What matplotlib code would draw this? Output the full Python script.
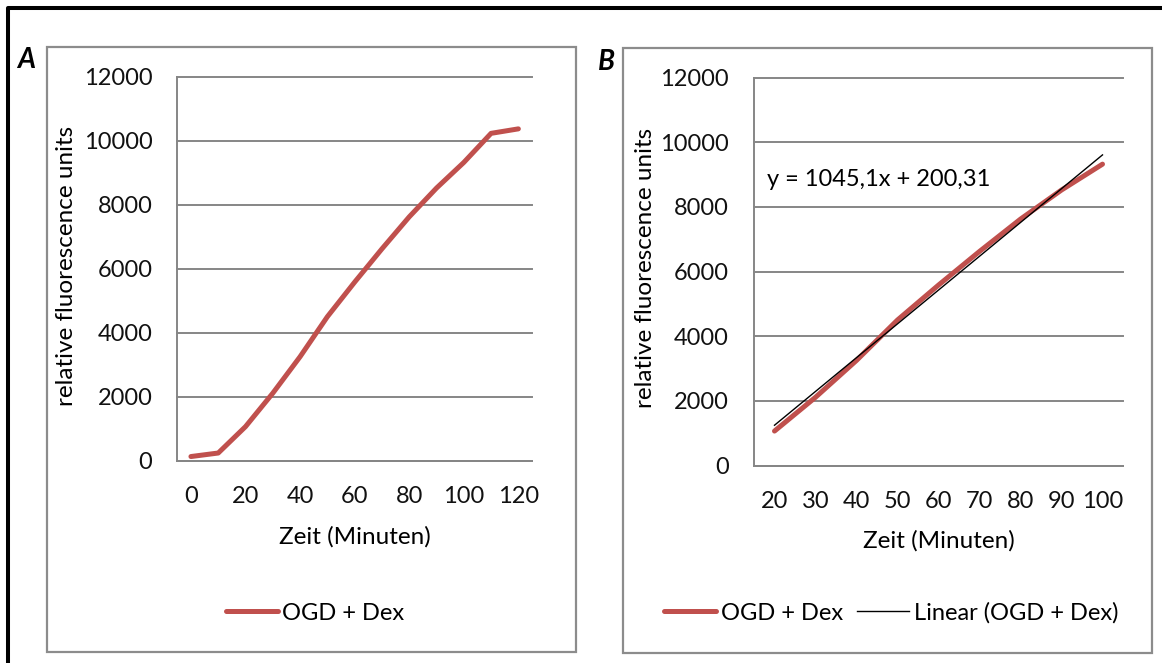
import numpy as np
import matplotlib.pyplot as plt
from matplotlib.patches import Rectangle
from matplotlib.lines import Line2D

W, H = 1162, 663

# fluorescence readout, OGD + Dex
minutes = [0, 10, 20, 30, 40, 50, 60, 70, 80, 90, 100, 110, 120]
rfu = [130, 240, 1065, 2110, 3250, 4500, 5580, 6620, 7620, 8520, 9320, 10230, 10370]

# linear range 20-100 min, used for the fit in panel B
minutes_lin = minutes[2:11]
rfu_lin = rfu[2:11]

# fitted trendline (x = point number 1..9)
slope = 1045.1
intercept = 200.31

y_ticks = [0, 2000, 4000, 6000, 8000, 10000, 12000]

red = '#C0504D'
grey = '#868686'
fs = 17

plt.rcParams['font.family'] = ['Lato', 'DejaVu Sans']


def fx(px):
    return px / W


def fy(py):
    return 1 - py / H


fig = plt.figure(figsize=(W / 100, H / 100), dpi=100)

# black frame, left and top only
fig.add_artist(Line2D([fx(8), fx(8), fx(1162)], [fy(663), fy(8), fy(8)],
                      color='black', lw=2.9))

# chart boxes
for x0, y0, x1, y1 in [(47, 47, 576, 652), (623, 48, 1152, 653)]:
    fig.add_artist(Rectangle((fx(x0), fy(y1)), fx(x1) - fx(x0), fy(y0) - fy(y1),
                             fill=False, ec='#8C8C8C', lw=1.6))


def make_axes(l, t, r, b):
    ax = fig.add_axes([fx(l), fy(b), fx(r) - fx(l), fy(t) - fy(b)])
    ax.set_ylim(0, 12000)
    ax.set_yticks(y_ticks)
    ax.set_yticklabels([str(v) for v in y_ticks])
    ax.grid(axis='y', color=grey, lw=1.4, clip_on=False)
    ax.set_axisbelow(True)
    for s in ['top', 'right']:
        ax.spines[s].set_visible(False)
    for s in ['left', 'bottom']:
        ax.spines[s].set_color(grey)
        ax.spines[s].set_linewidth(1.4)
    ax.tick_params(axis='y', length=0, labelsize=fs, pad=18, labelcolor='#111111')
    ax.tick_params(axis='x', length=0, labelsize=fs, pad=18, labelcolor='#111111')
    return ax


# panel A: full time course
ax_a = make_axes(177.3, 76.7, 532, 460.7)
idx_a = np.arange(len(minutes))
ax_a.plot(idx_a, rfu, color=red, lw=3.6, solid_capstyle='round',
          solid_joinstyle='round', label='OGD + Dex')
ax_a.set_xlim(-0.5, len(minutes) - 0.5)
ax_a.set_xticks(idx_a[::2])
ax_a.set_xticklabels([str(m) for m in minutes[::2]])

# panel B: linear part with trendline
ax_b = make_axes(754, 77.5, 1123, 465.5)
idx_b = np.arange(len(minutes_lin))
ax_b.plot(idx_b, rfu_lin, color=red, lw=3.6, solid_capstyle='round',
          solid_joinstyle='round', label='OGD + Dex')
trend = slope * (idx_b + 1) + intercept
ax_b.plot(idx_b[[0, -1]], trend[[0, -1]], color='black', lw=1.0,
          label='Linear (OGD + Dex)')
ax_b.set_xlim(-0.5, len(minutes_lin) - 0.5)
ax_b.set_xticks(idx_b)
ax_b.set_xticklabels([str(m) for m in minutes_lin])

eq = f'y = {slope:.1f}x + {intercept:.2f}'.replace('.', ',')
fig.text(fx(767), fy(180), eq, fontsize=fs, ha='left', va='center')

# axis titles
for xc, yc in [(67, 266), (646, 268)]:
    fig.text(fx(xc), fy(yc), 'relative fluorescence units', rotation=90,
             fontsize=fs + 0.5, ha='center', va='center')
for xc, yc in [(354.6, 537), (938.5, 541)]:
    fig.text(fx(xc), fy(yc), 'Zeit (Minuten)', fontsize=fs + 0.5,
             ha='center', va='center')

# panel letters
fig.text(fx(26), fy(60), 'A', fontsize=20, fontweight='bold', style='italic',
         ha='center', va='center')
fig.text(fx(606), fy(62), 'B', fontsize=20, fontweight='bold', style='italic',
         ha='center', va='center')

# legends under each chart
h, l = ax_a.get_legend_handles_labels()
fig.legend(h, l, loc='center', bbox_to_anchor=(fx(315), fy(613)), frameon=False,
           fontsize=fs, handlelength=2.2, handletextpad=0.2)
h, l = ax_b.get_legend_handles_labels()
fig.legend(h, l, loc='center', bbox_to_anchor=(fx(891), fy(613)), frameon=False,
           fontsize=fs, ncol=2, handlelength=2.2, handletextpad=0.2,
           columnspacing=0.6)

fig.savefig('out.png', dpi=100)
